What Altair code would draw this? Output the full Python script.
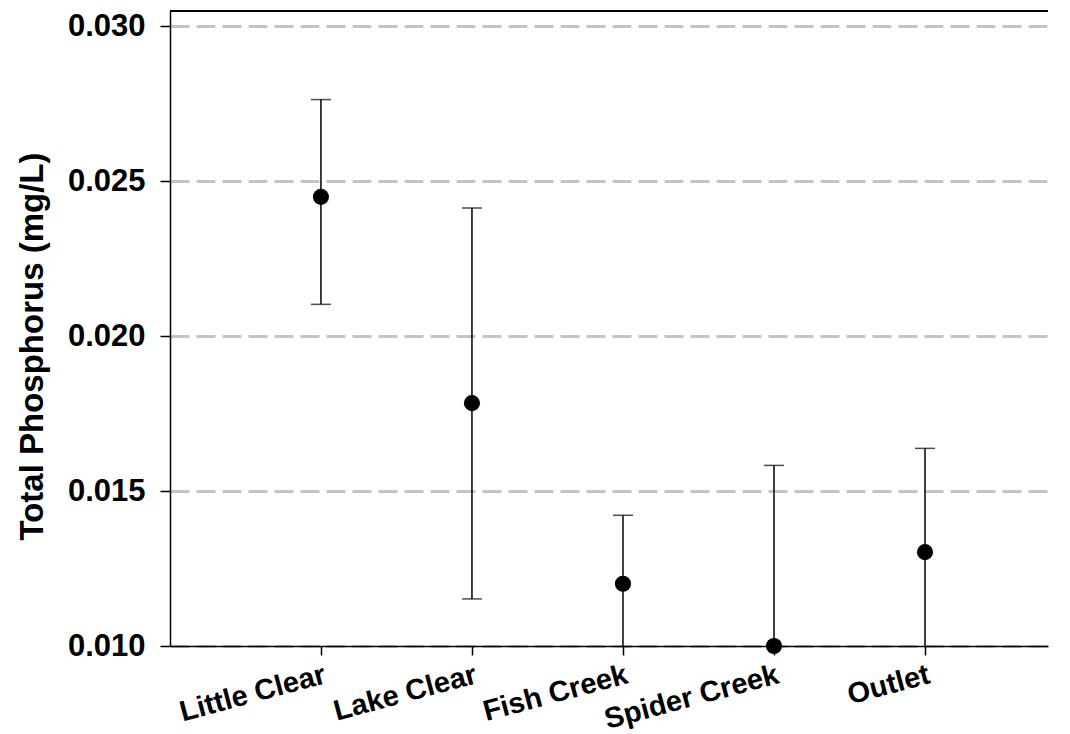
import altair as alt
import pandas as pd

# Total phosphorus by sampling site: mean with upper/lower error limits (mg/L)
sites = ["Little Clear", "Lake Clear", "Fish Creek", "Spider Creek", "Outlet"]
mean_tp = [0.02450, 0.01784, 0.01201, 0.01000, 0.01303]
upper_tp = [0.02764, 0.02414, 0.01422, 0.01583, 0.01638]
lower_tp = [0.02103, 0.01152, 0.00980, 0.00417, 0.00968]

y_ticks = [0.010, 0.015, 0.020, 0.025, 0.030]

df = pd.DataFrame({"site": sites, "mean": mean_tp, "upper": upper_tp, "lower": lower_tp})

FONT = "Liberation Sans"
W, H = 878, 635

x_enc = alt.X(
    "site:N",
    sort=sites,
    scale=alt.Scale(type="point", padding=0.907, align=0.551),
    axis=alt.Axis(
        title=None,
        labelAngle=345,
        labelAlign="right",
        labelBaseline="top",
        labelPadding=5,
        labelLimit=500,
        labelOverlap=False,
        labelFont=FONT,
        labelFontWeight="bold",
        labelFontSize=29,
        labelColor="black",
        tickSize=9,
        tickColor="black",
        tickWidth=1.5,
        domainColor="black",
        domainWidth=1.5,
        grid=False,
    ),
)

y_scale = alt.Scale(domain=[0.010, 0.0305], nice=False, zero=False)

base = alt.Chart(df)

points = base.mark_circle(size=260, color="black", opacity=1).encode(
    x=x_enc,
    y=alt.Y(
        "mean:Q",
        scale=y_scale,
        axis=alt.Axis(
            title="Total Phosphorus (mg/L)",
            titleFont=FONT,
            titleFontWeight="bold",
            titleFontSize=33,
            titleColor="black",
            titleAngle=270,
            titleAlign="center",
            titleBaseline="alphabetic",
            titleX=-128,
            titleY=335,
            values=y_ticks,
            format=".3f",
            labelFont=FONT,
            labelFontWeight="bold",
            labelFontSize=31,
            labelColor="black",
            labelPadding=15,
            tickSize=10,
            tickColor="black",
            tickWidth=1.5,
            domainColor="black",
            domainWidth=1.5,
            grid=True,
            gridColor="#c4c4c4",
            gridDash=[19, 7],
            gridWidth=3,
        ),
    ),
)

bars = base.mark_rule(color="black", strokeWidth=1.5, clip=True).encode(
    x=alt.X("site:N", sort=sites),
    y=alt.Y("lower:Q", scale=y_scale),
    y2="upper:Q",
)

caps_up = base.mark_tick(color="black", orient="horizontal", size=20, thickness=1.5, clip=True).encode(
    x=alt.X("site:N", sort=sites),
    y=alt.Y("upper:Q", scale=y_scale),
)

caps_low = base.mark_tick(color="black", orient="horizontal", size=20, thickness=1.5, clip=True).encode(
    x=alt.X("site:N", sort=sites),
    y=alt.Y("lower:Q", scale=y_scale),
)

top_line = alt.Chart(df).mark_rule(color="black", strokeWidth=1.5).encode(
    x=alt.value(0), x2=alt.value(W), y=alt.value(0)
)

chart = (
    alt.layer(bars, caps_up, caps_low, points, top_line)
    .properties(
        width=W,
        height=H,
        autosize=alt.AutoSizeParams(type="none"),
        padding={"left": 170, "top": 11, "right": 22, "bottom": 88},
        background="white",
    )
    .configure_view(stroke=None)
)

chart.save("out.html", embed_options={"renderer": "svg", "actions": False})
